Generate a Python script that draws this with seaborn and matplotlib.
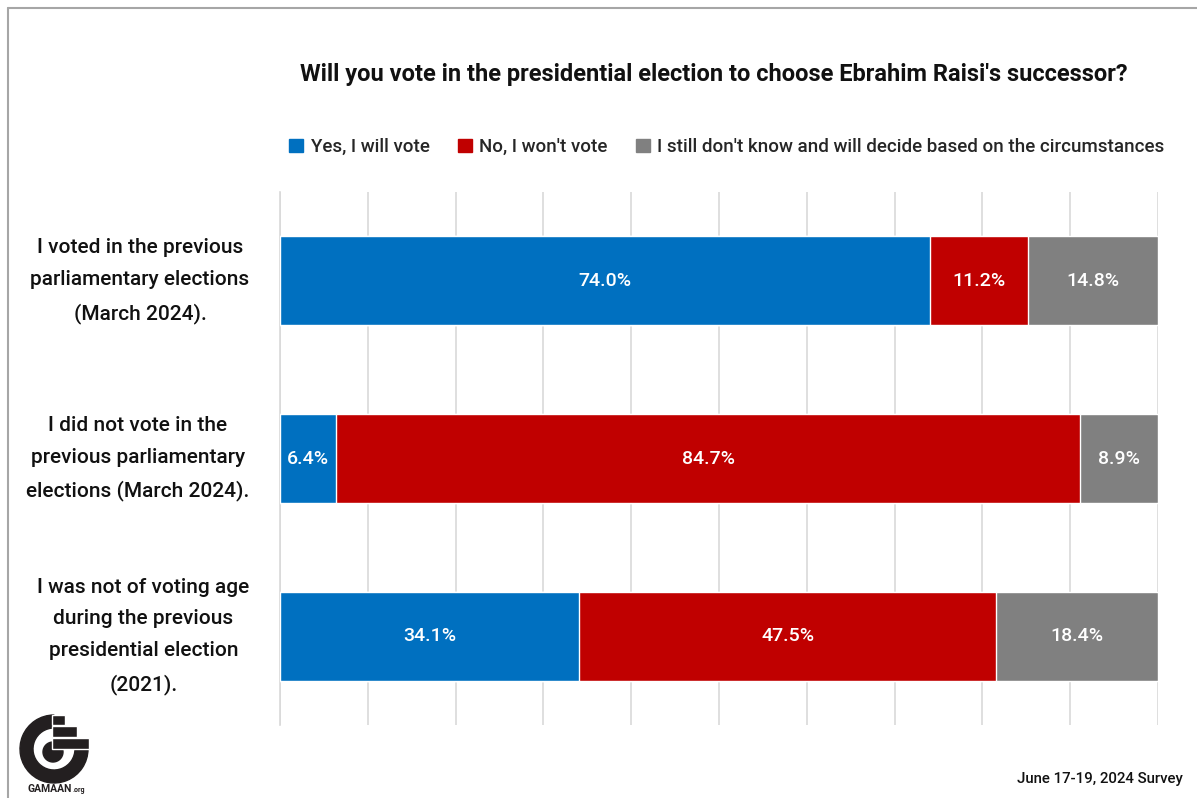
import numpy as np
import pandas as pd
import matplotlib
matplotlib.use("Agg")
import matplotlib.pyplot as plt
from matplotlib.patches import Wedge, Circle, Rectangle
from matplotlib.lines import Line2D
import seaborn as sns

# ---- data ----
groups = [
    "I voted in the previous\nparliamentary elections\n(March 2024).",
    "I did not vote in the\nprevious parliamentary\nelections (March 2024).",
    "I was not of voting age\nduring the previous\npresidential election\n(2021).",
]
yes_vote = [74.0, 6.4, 34.1]
no_vote = [11.2, 84.7, 47.5]
undecided = [14.8, 8.9, 18.4]
series_names = ["Yes, I will vote", "No, I won't vote",
                "I still don't know and will decide based on the circumstances"]
colors = ["#0070C0", "#C00000", "#808080"]

title = "Will you vote in the presidential election to choose Ebrahim Raisi's successor?"
footer = "June 17-19, 2024 Survey"

sns.set_theme(style="white")
plt.rcParams["font.family"] = ["Roboto", "DejaVu Sans"]

df = pd.DataFrame({"group": groups, "yes": yes_vote, "no": no_vote, "dk": undecided})
df["c_yes"] = df["yes"]
df["c_no"] = df["yes"] + df["no"]
df["c_dk"] = df["yes"] + df["no"] + df["dk"]

W, H = 1197, 798
fig = plt.figure(figsize=(W / 100, H / 100), dpi=100)
ax = fig.add_axes([280 / W, 1 - 725 / H, (1158 - 280) / W, (725 - 192) / H])

# stacked bars drawn as overlapping cumulative totals
for col, color in zip(["c_dk", "c_no", "c_yes"], colors[::-1]):
    sns.barplot(data=df, x=col, y="group", orient="h", color=color,
                width=0.5, saturation=1, ax=ax, zorder=3)

# value labels at segment centres
for i in range(len(groups)):
    starts = [0, df["c_yes"][i], df["c_no"][i]]
    vals = [yes_vote[i], no_vote[i], undecided[i]]
    for s, v in zip(starts, vals):
        ax.text(s + v / 2, i, f"{v:.1f}%", ha="center", va="center",
                color="white", fontsize=14, fontweight="medium", zorder=5)

ax.set_xlim(0, 100)
ax.set_ylim(2.5, -0.5)
ax.set_xticks(np.arange(0, 101, 10))
ax.set_xticklabels([])
ax.xaxis.grid(True, color="#D9D9D9", linewidth=1.2, zorder=0)
ax.set_axisbelow(True)
ax.tick_params(axis="x", length=0)
ax.set_xlabel("")
ax.set_ylabel("")

# category ticks at band boundaries, labels centred in each band
ax.set_yticks([-0.5, 0.5, 1.5, 2.5], minor=False)
ax.set_yticklabels([])
ax.tick_params(axis="y", which="major", length=6, width=1.2, color="#D9D9D9", direction="out")
ax.set_yticks(range(len(groups)), minor=True)
ax.set_yticklabels(groups, minor=True, fontsize=15, fontweight="medium", color="#111111")
ax.tick_params(axis="y", which="minor", length=0, pad=22)
for lbl in ax.get_yticklabels(minor=True):
    lbl.set_multialignment("center")
    lbl.set_linespacing(1.85)
    lbl.set_verticalalignment("center")

for side in ["top", "right", "bottom"]:
    ax.spines[side].set_visible(False)
ax.spines["left"].set_color("#D9D9D9")
ax.spines["left"].set_linewidth(1.2)

# title and legend
fig.text(714 / W, 1 - 75 / H, title, ha="center", va="center",
         fontsize=17, fontweight="bold", color="#111111")
handles = [Rectangle((0, 0), 1, 1, color=c) for c in colors]
fig.legend(handles, series_names, loc="center", bbox_to_anchor=(727 / W, 1 - 147 / H),
           ncol=3, frameon=False, handlelength=0.75, handleheight=0.75,
           handletextpad=0.4, columnspacing=1.5,
           prop={"size": 13.5, "weight": "medium"})

# footer
fig.text(1183 / W, 1 - 779 / H, footer, ha="right", va="center",
         fontsize=10.8, color="#111111", fontweight="medium")

# frame lines
fig.add_artist(Line2D([8 / W, 1], [1 - 8 / H, 1 - 8 / H], transform=fig.transFigure,
                      color="#A6A6A6", linewidth=1.5))
fig.add_artist(Line2D([8 / W, 8 / W], [0, 1 - 8 / H], transform=fig.transFigure,
                      color="#A6A6A6", linewidth=1.5))

# GAMAAN logo
lax = fig.add_axes([0, 0, 150 / W, 100 / H])
lax.set_xlim(0, 150)
lax.set_ylim(0, 100)
lax.axis("off")
dark = "#231F20"
lax.add_patch(Wedge((54, 49), 34, 90, 360, width=13, color=dark))
lax.add_patch(Circle((53, 46), 10, color=dark))
lax.add_patch(Rectangle((52, 49), 37, 11, facecolor=dark, edgecolor="white", linewidth=1))
lax.add_patch(Rectangle((52, 61), 25, 11, facecolor=dark, edgecolor="white", linewidth=1))
lax.add_patch(Rectangle((52, 73), 13, 10, facecolor=dark, edgecolor="white", linewidth=1))
lax.text(27, 9, "GAMAAN", fontsize=7.5, fontweight="bold", color=dark, ha="left", va="center")
lax.text(73, 8, ".org", fontsize=5, fontweight="bold", color=dark, ha="left", va="center")

fig.savefig("out.png", dpi=100, facecolor="white")
